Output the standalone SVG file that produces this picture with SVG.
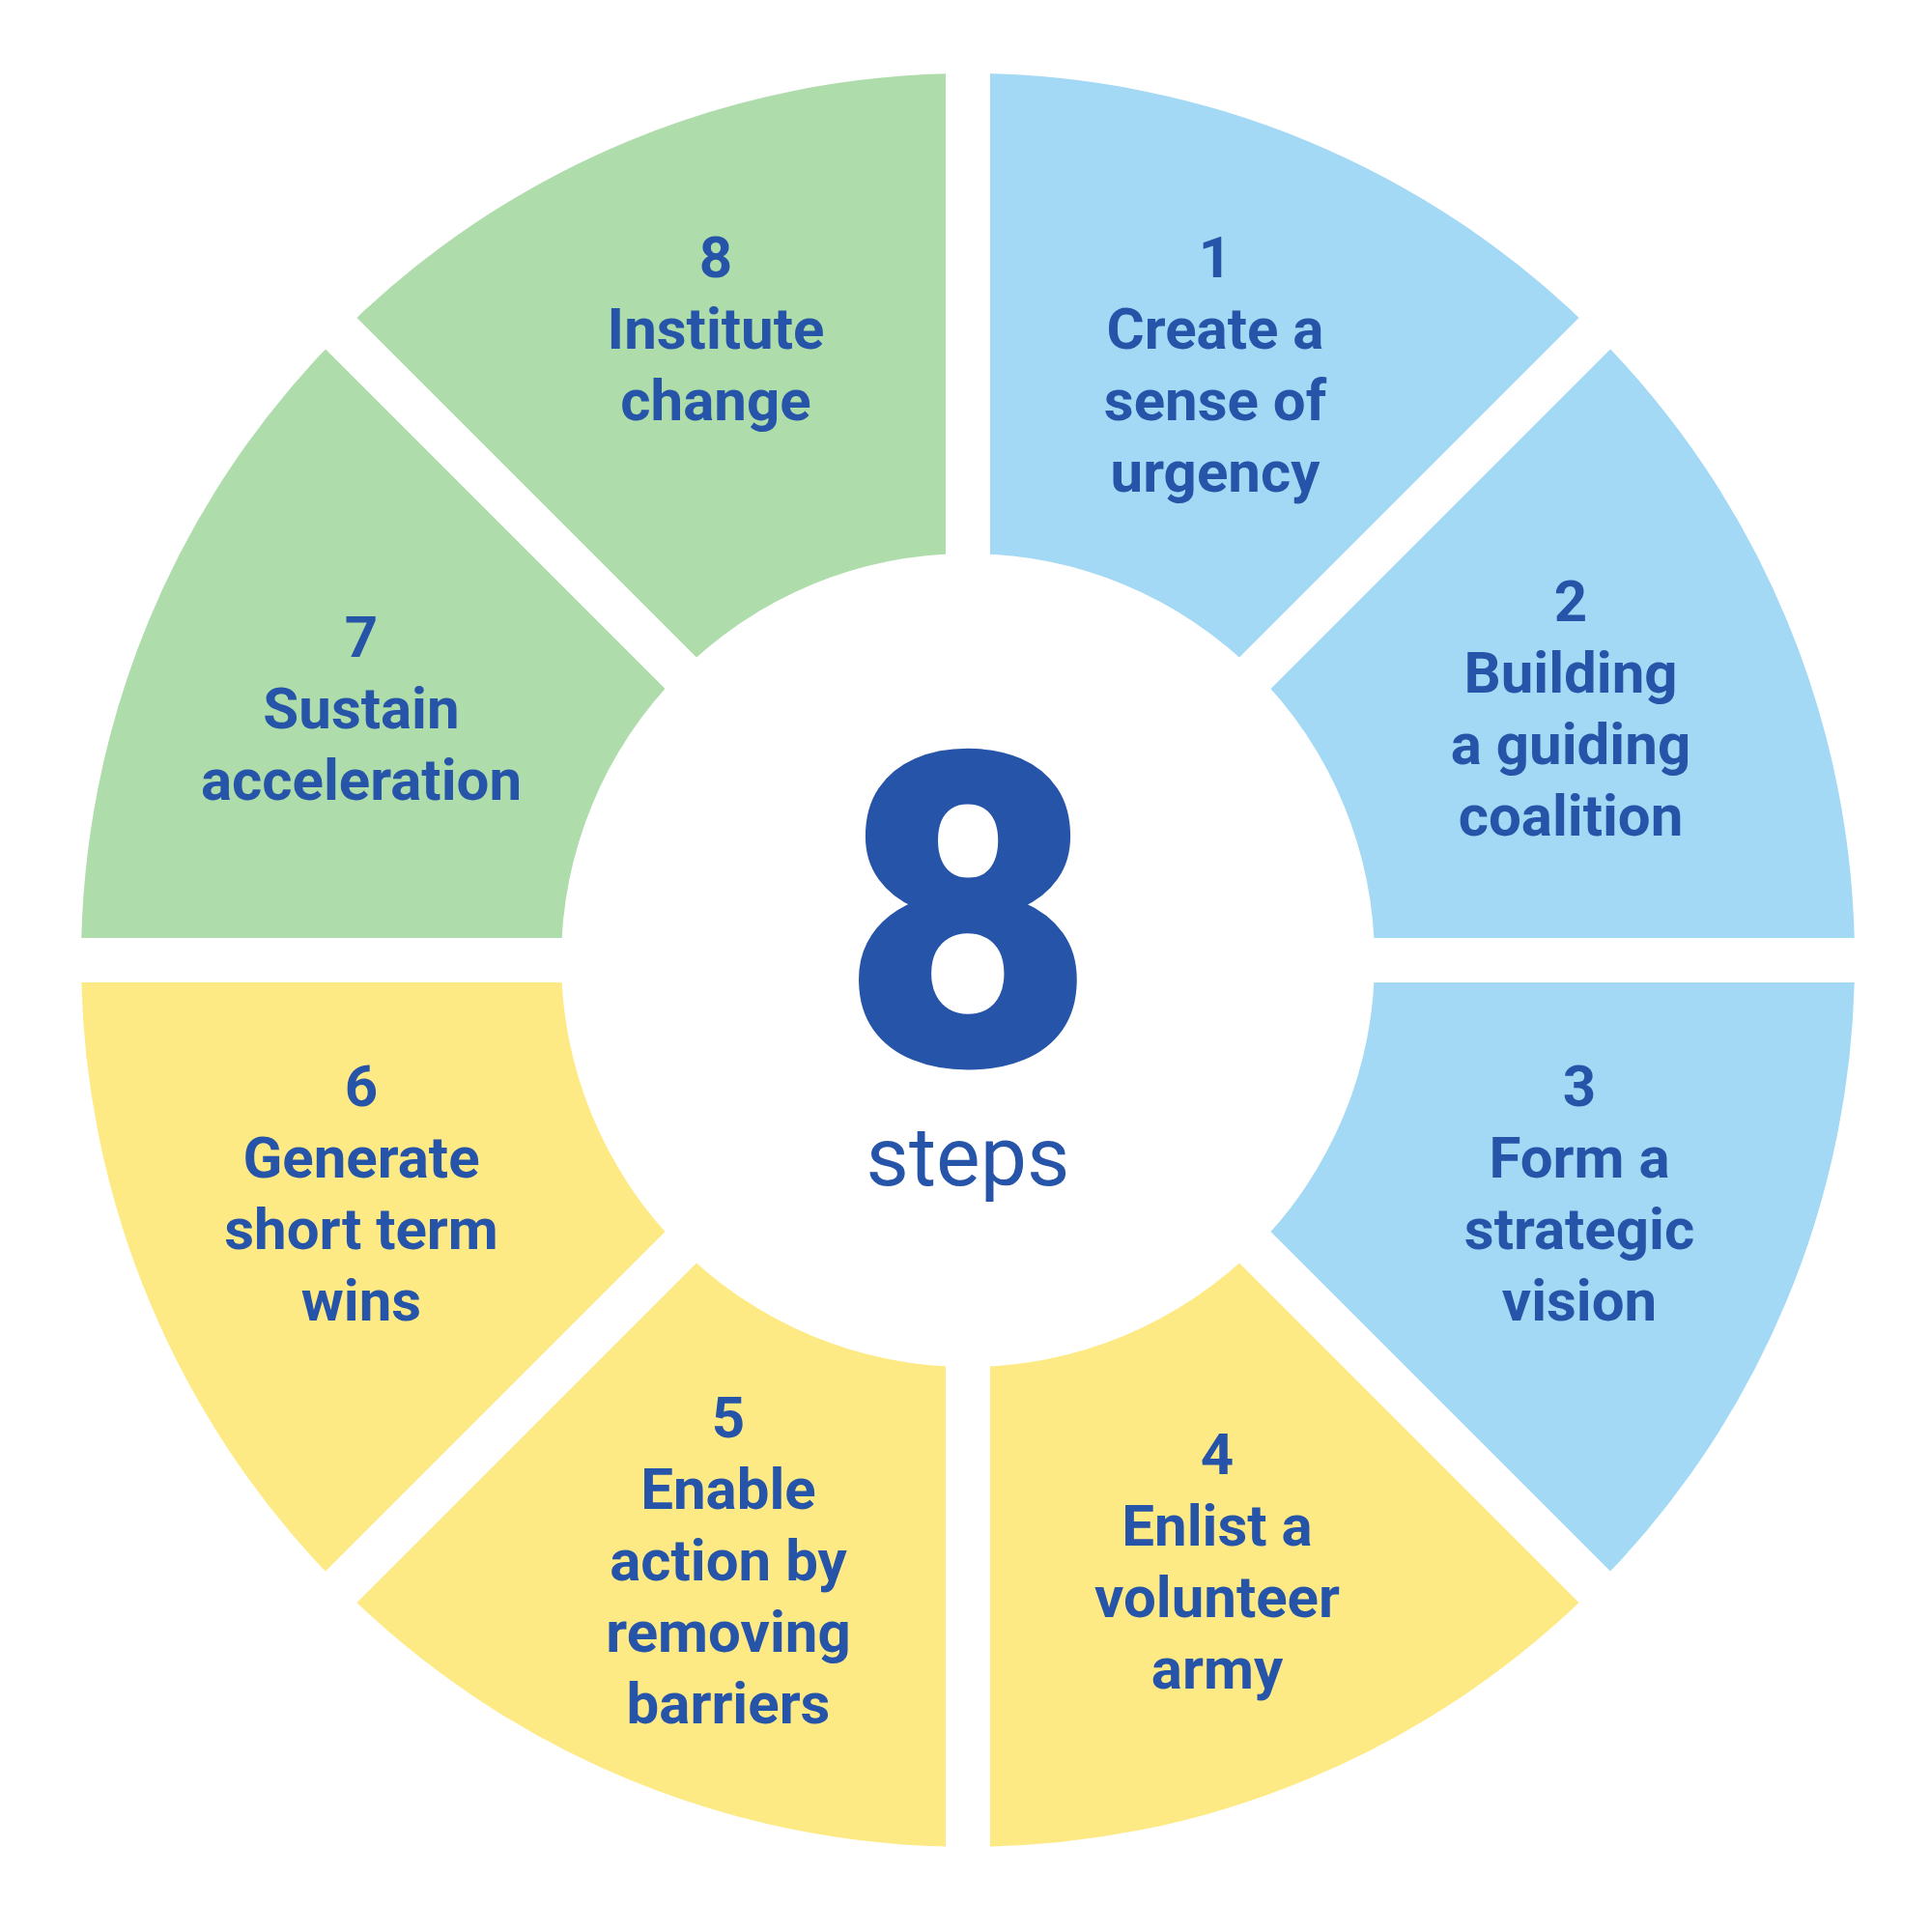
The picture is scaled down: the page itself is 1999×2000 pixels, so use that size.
<svg xmlns="http://www.w3.org/2000/svg" width="1999" height="2000" viewBox="0 0 1999 2000">
<style>
.b{fill:#a3d9f5}.y{fill:#fdea85}.g{fill:#aedcaa}
text{font-family:Roboto,"Liberation Sans",sans-serif;fill:#2554a8;text-anchor:middle}
.t{font-size:60px;font-weight:bold}
</style>
<rect width="1999" height="2000" fill="#fff"/>
<g id="sectors">
<path id="s1" class="b" d="M1002,76 A918,918 0 0 1 1651.1,344.9 L1299.7,696.3 A421,421 0 0 0 1002,573 Z"/>
<path id="s2" class="b" d="M1651.1,344.9 A918,918 0 0 1 1920,994 L1423,994 A421,421 0 0 0 1299.7,696.3 Z"/>
<path id="s3" class="b" d="M1920,994 A918,918 0 0 1 1651.1,1643.1 L1299.7,1291.7 A421,421 0 0 0 1423,994 Z"/>
<path id="s4" class="y" d="M1651.1,1643.1 A918,918 0 0 1 1002,1912 L1002,1415 A421,421 0 0 0 1299.7,1291.7 Z"/>
<path id="s5" class="y" d="M1002,1912 A918,918 0 0 1 352.9,1643.1 L704.3,1291.7 A421,421 0 0 0 1002,1415 Z"/>
<path id="s6" class="y" d="M352.9,1643.1 A918,918 0 0 1 84,994 L581,994 A421,421 0 0 0 704.3,1291.7 Z"/>
<path id="s7" class="g" d="M84,994 A918,918 0 0 1 352.9,344.9 L704.3,696.3 A421,421 0 0 0 581,994 Z"/>
<path id="s8" class="g" d="M352.9,344.9 A918,918 0 0 1 1002,76 L1002,573 A421,421 0 0 0 704.3,696.3 Z"/>
</g>
<g id="gaps" stroke="#fff" stroke-width="46">
<line x1="1002" y1="40" x2="1002" y2="1950"/>
<line x1="40" y1="994" x2="1960" y2="994"/>
<line x1="320" y1="312" x2="1684" y2="1676"/>
<line x1="1684" y1="312" x2="320" y2="1676"/>
</g>
<g id="n1" class="t"><text x="1258" y="287">1</text><text x="1258" y="361">Create a</text><text x="1258" y="435">sense of</text><text x="1258" y="509">urgency</text></g>
<g id="n2" class="t"><text x="1626" y="643">2</text><text x="1626" y="717">Building</text><text x="1626" y="791">a guiding</text><text x="1626" y="865">coalition</text></g>
<g id="n3" class="t"><text x="1635" y="1145">3</text><text x="1635" y="1219">Form a</text><text x="1635" y="1293">strategic</text><text x="1635" y="1367">vision</text></g>
<g id="n4" class="t"><text x="1260" y="1526">4</text><text x="1260" y="1600">Enlist a</text><text x="1260" y="1674">volunteer</text><text x="1260" y="1748">army</text></g>
<g id="n5" class="t"><text x="754" y="1488">5</text><text x="754" y="1562">Enable</text><text x="754" y="1636">action by</text><text x="754" y="1710">removing</text><text x="754" y="1784">barriers</text></g>
<g id="n6" class="t"><text x="374" y="1145">6</text><text x="374" y="1219">Generate</text><text x="374" y="1293">short term</text><text x="374" y="1367">wins</text></g>
<g id="n7" class="t"><text x="374" y="680">7</text><text x="374" y="754">Sustain</text><text x="374" y="828">acceleration</text></g>
<g id="n8" class="t"><text x="741" y="287">8</text><text x="741" y="361">Institute</text><text x="741" y="435">change</text></g>
<g id="center"><text x="1002" y="1103" font-size="455" font-weight="900">8</text><text x="1002" y="1227" font-size="86">steps</text></g>
</svg>
